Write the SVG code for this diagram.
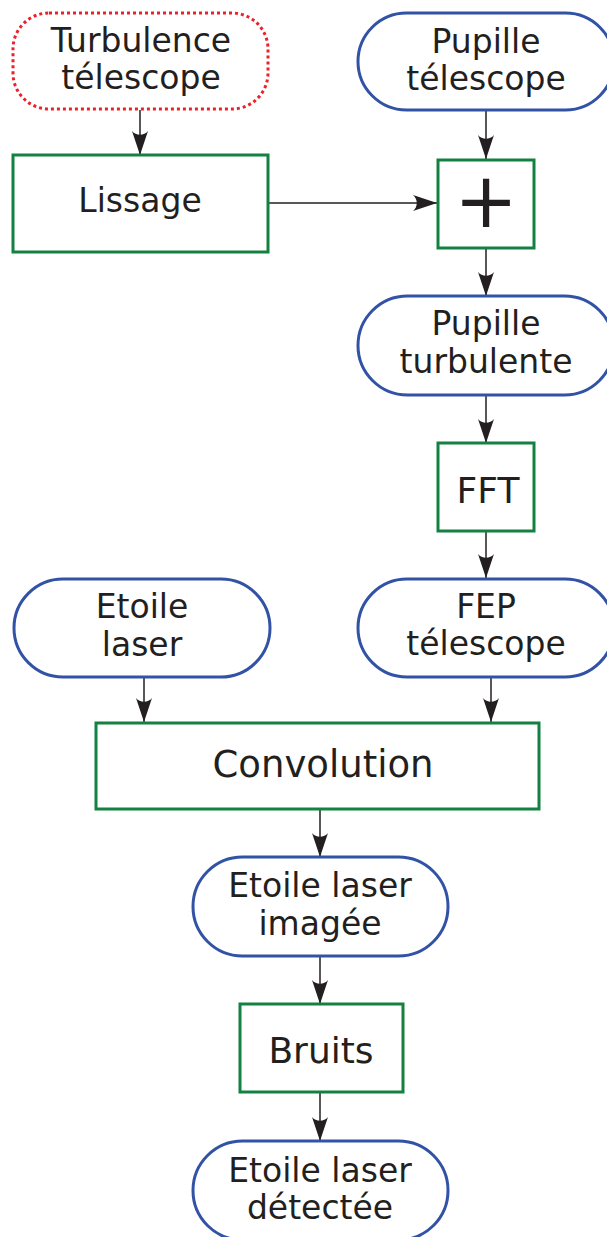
<svg xmlns="http://www.w3.org/2000/svg" width="607" height="1237" viewBox="0 0 607 1237">
<style>
.t{font-family:"DejaVu Sans",sans-serif;fill:#231f20;text-anchor:middle;}
.pill{fill:#fff;stroke:#3253a5;stroke-width:3;}
.box{fill:#fff;stroke:#128141;stroke-width:3;}
.dot{fill:#fff;stroke:#ec2028;stroke-width:3;stroke-dasharray:3 3;}
.c{stroke:#231f20;stroke-width:1.5;fill:none;marker-end:url(#ah);}
</style>
<defs>
<marker id="ah" markerUnits="userSpaceOnUse" viewBox="0 0 26 18" markerWidth="26" markerHeight="18" refX="25" refY="9" orient="auto">
<path d="M25,9 L1,1 C6,5 6,13 1,17 Z" fill="#231f20"/>
</marker>
</defs>
<g id="connectors">
<line class="c" x1="140" y1="110" x2="140" y2="155"/>
<line class="c" x1="486" y1="111" x2="486" y2="159"/>
<line class="c" x1="268" y1="203" x2="437" y2="203"/>
<line class="c" x1="486" y1="248" x2="486" y2="296"/>
<line class="c" x1="486" y1="395" x2="486" y2="443"/>
<line class="c" x1="486" y1="531" x2="486" y2="578"/>
<line class="c" x1="144" y1="678" x2="144" y2="722"/>
<line class="c" x1="491" y1="678" x2="491" y2="722"/>
<line class="c" x1="320" y1="809" x2="320" y2="857"/>
<line class="c" x1="320" y1="956" x2="320" y2="1004"/>
<line class="c" x1="320" y1="1092" x2="320" y2="1141"/>
</g>
<g id="turbulence">
<rect class="dot" x="13" y="13" width="255" height="96" rx="36" ry="36"/>
<text class="t" x="141" y="52" font-size="33">Turbulence</text>
<text class="t" x="141" y="89" font-size="33">télescope</text>
</g>
<g id="pupille-telescope">
<rect class="pill" x="358" y="13" width="256" height="97" rx="48.5" ry="48.5"/>
<text class="t" x="486" y="53" font-size="33">Pupille</text>
<text class="t" x="486" y="90" font-size="33">télescope</text>
</g>
<g id="lissage">
<rect class="box" x="13" y="155" width="255" height="97"/>
<text class="t" x="140" y="212" font-size="33">Lissage</text>
</g>
<g id="plus">
<rect class="box" x="438" y="160" width="96" height="88"/>
<text class="t" x="486" y="227" font-size="76">+</text>
</g>
<g id="pupille-turbulente">
<rect class="pill" x="358" y="296" width="256" height="99" rx="49.5" ry="49.5"/>
<text class="t" x="486" y="335" font-size="33">Pupille</text>
<text class="t" x="486" y="373" font-size="33">turbulente</text>
</g>
<g id="fft">
<rect class="box" x="438" y="443" width="96" height="88"/>
<text class="t" x="488" y="503" font-size="36">FFT</text>
</g>
<g id="etoile-laser">
<rect class="pill" x="14" y="579" width="256" height="98" rx="49" ry="49"/>
<text class="t" x="142" y="618" font-size="33">Etoile</text>
<text class="t" x="142" y="656" font-size="33">laser</text>
</g>
<g id="fep-telescope">
<rect class="pill" x="358" y="579" width="256" height="98" rx="49" ry="49"/>
<text class="t" x="486" y="618" font-size="33">FEP</text>
<text class="t" x="486" y="655" font-size="33">télescope</text>
</g>
<g id="convolution">
<rect class="box" x="96" y="723" width="443" height="86"/>
<text class="t" x="323" y="777" font-size="37">Convolution</text>
</g>
<g id="etoile-laser-imagee">
<rect class="pill" x="193" y="857" width="255" height="99" rx="49.5" ry="49.5"/>
<text class="t" x="320" y="897" font-size="33">Etoile laser</text>
<text class="t" x="320" y="935" font-size="33">imagée</text>
</g>
<g id="bruits">
<rect class="box" x="240" y="1004" width="163" height="88"/>
<text class="t" x="321" y="1063" font-size="36">Bruits</text>
</g>
<g id="etoile-laser-detectee">
<rect class="pill" x="193" y="1141" width="255" height="99" rx="49.5" ry="49.5"/>
<text class="t" x="320" y="1182" font-size="33">Etoile laser</text>
<text class="t" x="320" y="1219" font-size="33">détectée</text>
</g>
</svg>
